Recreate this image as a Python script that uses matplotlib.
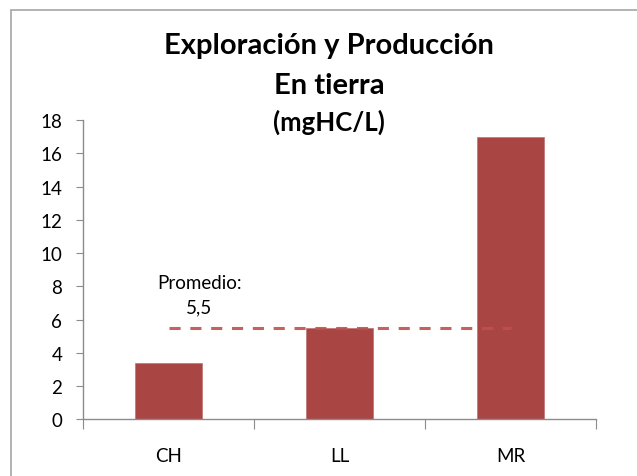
import matplotlib
matplotlib.use("Agg")
import matplotlib.pyplot as plt
from matplotlib.patches import Rectangle

categories = ["CH", "LL", "MR"]
values = [3.4, 5.5, 17.0]
average = [5.5, 5.5, 5.5]
avg_label = "Promedio:\n5,5"
title_lines = ["Exploración y Producción", "En tierra", "(mgHC/L)"]
yticks = list(range(0, 19, 2))

W, H = 637, 477
DPI = 100
plt.rcParams['font.family'] = ['Lato', 'DejaVu Sans']
plt.rcParams['lines.scale_dashes'] = False

fig = plt.figure(figsize=(W / DPI, H / DPI), dpi=DPI)
fig.patch.set_facecolor("white")

# outer chart frame
fig.patches.append(Rectangle((11 / W, -0.05), 1.0, 1 - 11 / H + 0.05,
                             transform=fig.transFigure, fill=False,
                             edgecolor="#A6A6A6", linewidth=1.2))

ax = fig.add_axes([83 / W, 1 - 420.3 / H, (596 - 83) / W, (420.3 - 121) / H])
x = list(range(len(categories)))
ax.bar(x, values, width=0.39, color="#A94644", edgecolor="#C27A78",
       linewidth=0.6, zorder=2)
ax.plot(x, average, color="#C0504D", linewidth=2.2, dashes=(8, 7),
        alpha=0.9, zorder=3)

ax.set_xlim(-0.5, len(categories) - 0.5)
ax.set_ylim(0, 18)
ax.set_yticks(yticks)
ax.set_xticks([i - 0.5 for i in range(len(categories) + 1)])
ax.set_xticklabels([])
ax.set_xticks(x, minor=True)
ax.set_xticklabels(categories, minor=True)

for s in ["top", "right"]:
    ax.spines[s].set_visible(False)
for s in ["left", "bottom"]:
    ax.spines[s].set_color("#8C8C8C")
    ax.spines[s].set_linewidth(1.0)

ax.tick_params(axis="y", which="major", direction="out", length=5,
               color="#8C8C8C", labelsize=13.5, pad=10)
ax.tick_params(axis="x", which="major", direction="out", length=7,
               color="#8C8C8C")
ax.tick_params(axis="x", which="minor", length=0, labelsize=13.5, pad=20)

ax.text(0.18, 7.5, avg_label, ha="center", va="center", fontsize=13.5,
        linespacing=1.55)

fig.text(329 / W, 1 - 54 / H, title_lines[0], ha="center", va="baseline",
         fontsize=21, fontweight="bold")
fig.text(329 / W, 1 - 94 / H, title_lines[1], ha="center", va="baseline",
         fontsize=21, fontweight="bold")
fig.text(329 / W, 1 - 131 / H, title_lines[2], ha="center", va="baseline",
         fontsize=18.5, fontweight="bold")

fig.savefig("out.png", dpi=DPI)
